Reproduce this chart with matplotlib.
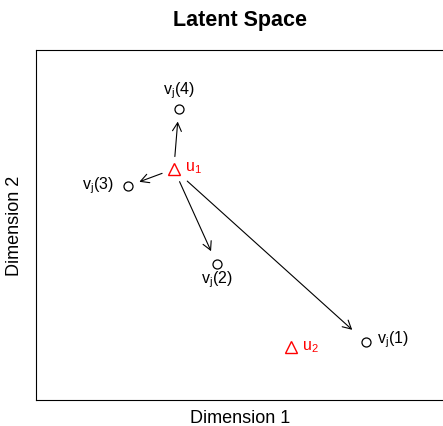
import matplotlib
matplotlib.use("Agg")
import matplotlib.pyplot as plt

plt.rcParams['font.family'] = ['Liberation Sans', 'DejaVu Sans']
plt.rcParams['mathtext.fontset'] = 'custom'
plt.rcParams['mathtext.rm'] = 'Liberation Sans'
plt.rcParams['mathtext.it'] = 'Liberation Sans:italic'

# item points v_j(k) and user points u_i in the latent space
item_names = ['1', '2', '3', '4']
item_x = [8.06, 4.42, 2.24, 3.49]
item_y = [1.66, 3.89, 6.11, 8.31]

user_names = ['1', '2']
user_x = [3.37, 6.24]
user_y = [6.60, 1.51]

# label placement for each item (offset in points, alignment)
item_offsets = [(8, 2), (0, -11), (-10, 1), (0, 14)]
item_ha = ['left', 'center', 'right', 'center']

fig = plt.figure(figsize=(4.43, 4.27), dpi=100)
ax = fig.add_axes([36 / 443, 1 - 401 / 427, 409 / 443, 350 / 427])
ax.set_xlim(0, 10)
ax.set_ylim(0, 10)
ax.set_xticks([])
ax.set_yticks([])
for s in ax.spines.values():
    s.set_linewidth(0.8)

# arrows from u_1 to every item
shrinks = [13, 10, 9, 9]
for i in range(len(item_x)):
    ax.annotate('', xy=(item_x[i], item_y[i]), xytext=(user_x[0], user_y[0]),
                arrowprops=dict(arrowstyle='->,head_length=0.6,head_width=0.32',
                                color='black', lw=0.8, mutation_scale=10,
                                shrinkA=shrinks[i], shrinkB=shrinks[i]))

ax.plot(item_x, item_y, 'o', ms=6.5, mfc='none', mec='black', mew=0.9)
ax.plot(user_x, user_y, '^', ms=9, mfc='none', mec='red', mew=1.0)

for i, name in enumerate(item_names):
    ax.annotate('v$_\\mathrm{j}$(' + name + ')', (item_x[i], item_y[i]),
                xytext=item_offsets[i], textcoords='offset points',
                ha=item_ha[i], va='center', fontsize=11.5)

for i, name in enumerate(user_names):
    ax.annotate('u$_\\mathrm{' + name + '}$', (user_x[i], user_y[i]),
                xytext=(8, 1), textcoords='offset points',
                ha='left', va='center', fontsize=11.5, color='red')

ax.set_title('Latent Space', fontsize=15.5, fontweight='bold', pad=18)
ax.set_xlabel('Dimension 1', fontsize=13, labelpad=6.5)
ax.set_ylabel('Dimension 2', fontsize=13, labelpad=9)

fig.savefig('out.png', dpi=100)
